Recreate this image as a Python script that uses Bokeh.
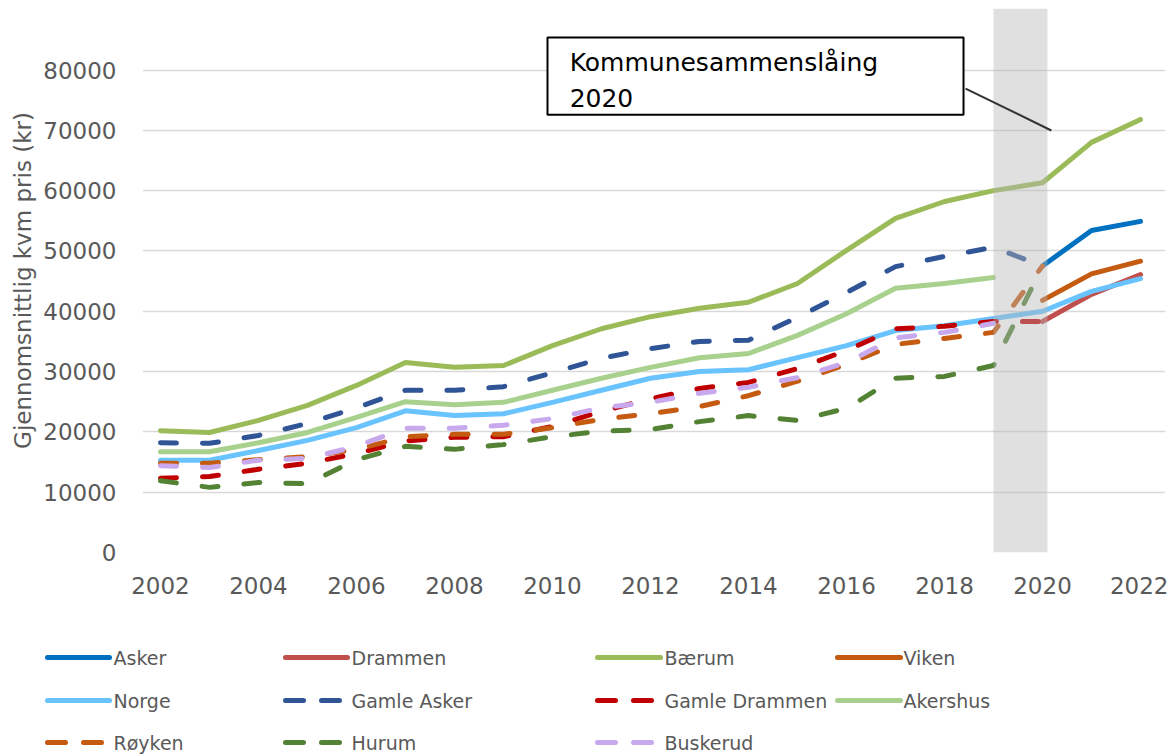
import numpy as np
from bokeh.plotting import figure
from bokeh.models import Range1d, FixedTicker, BoxAnnotation, Label, Arrow, BasicTickFormatter
from bokeh.layouts import column
from bokeh.embed import file_html
from bokeh.resources import INLINE
from bokeh.core.properties import value

nan = float("nan")
years = list(range(2002, 2023))

asker = [nan] * 18 + [47500, 53400, 54900]
drammen = [nan] * 18 + [38300, 42800, 46100]
baerum = [20200, 19900, 21900, 24400, 27700, 31500, 30700, 31000, 34300, 37100, 39100,
          40500, 41500, 44600, 50100, 55400, 58200, 60000, 61300, 68000, 71800]
viken = [nan] * 18 + [41800, 46200, 48300]
norge = [15300, 15300, 16900, 18600, 20700, 23500, 22700, 23000, 24900, 26900, 28900,
         30000, 30300, 32300, 34300, 36800, 37600, 38800, 40000, 43300, 45400]
gamle_asker = [18200, 18100, 19400, 21400, 24000, 26900, 26900, 27500, 29800, 32200, 33800,
               35000, 35200, 39000, 43100, 47400, 49100, 50600, 47500, nan, nan]
gamle_drammen = [12300, 12600, 13800, 14800, 16400, 18500, 19100, 19200, 20900, 23400, 25500,
                 27200, 28200, 30500, 33500, 37100, 37500, 38300, 38300, nan, nan]
akershus = [16700, 16700, 18200, 19900, 22400, 25000, 24500, 24900, 26900, 28900, 30700,
            32300, 33000, 36000, 39600, 43800, 44600, 45600, nan, nan, nan]
royken = [14800, 14800, 15400, 15900, 17100, 19200, 19600, 19600, 20700, 22100, 23000,
          24200, 26000, 28400, 31200, 34500, 35500, 36500, 47500, nan, nan]
hurum = [11900, 10800, 11600, 11400, 15400, 17600, 17100, 17900, 19200, 20100, 20400,
         21700, 22700, 21900, 23900, 28900, 29200, 31000, 47500, nan, nan]
buskerud = [14400, 14100, 15300, 15600, 17600, 20600, 20600, 21100, 22200, 24000, 24900,
            26400, 27400, 29000, 31500, 35600, 36500, 38000, nan, nan, nan]

names = ["Asker", "Drammen", "Bærum", "Viken", "Norge", "Gamle Asker", "Gamle Drammen",
         "Akershus", "Røyken", "Hurum", "Buskerud"]
values_list = [asker, drammen, baerum, viken, norge, gamle_asker, gamle_drammen,
               akershus, royken, hurum, buskerud]
colors = ["#0070C0", "#C0504D", "#9BBB59", "#C55A11", "#69C3FF", "#2F5597", "#C00000",
          "#A9D18E", "#C55A11", "#548235", "#C8A9EE"]
dashed = [False, False, False, False, False, True, True, False, True, True, True]

y_ticks = list(range(0, 80001, 10000))
x_ticks = list(range(2002, 2023, 2))

FONT = "DejaVu Sans"
GREY_TXT = "#595959"

p = figure(width=1168, height=628,
           x_range=Range1d(2001.633, 2022.51), y_range=Range1d(0, 90200),
           output_backend="svg", toolbar_location=None,
           min_border_left=142, min_border_right=3, min_border_top=8, min_border_bottom=76)
p.frame_align = False
p.outline_line_color = None
p.background_fill_color = "white"
p.xgrid.visible = False
p.ygrid.grid_line_color = "#D9D9D9"
p.ygrid.grid_line_width = 1.5

p.yaxis.ticker = FixedTicker(ticks=y_ticks)
p.xaxis.ticker = FixedTicker(ticks=x_ticks)
p.yaxis.formatter = BasicTickFormatter(use_scientific=False)
p.xaxis.formatter = BasicTickFormatter(use_scientific=False)
for ax in [p.xaxis, p.yaxis]:
    ax.axis_line_color = None
    ax.major_tick_line_color = None
    ax.minor_tick_line_color = None
    ax.major_label_text_font = FONT
    ax.major_label_text_font_size = "23px"
    ax.major_label_text_color = GREY_TXT
p.yaxis.major_label_standoff = 20
p.xaxis.major_label_standoff = 18
p.yaxis.axis_label = "Gjennomsnittlig kvm pris (kr)"
p.yaxis.axis_label_text_font = FONT
p.yaxis.axis_label_text_font_size = "23px"
p.yaxis.axis_label_text_font_style = "normal"
p.yaxis.axis_label_text_color = GREY_TXT
p.yaxis.axis_label_standoff = 4

for name, vals, col, dsh in zip(names, values_list, colors, dashed):
    p.line(x=years, y=vals, line_color=col, line_width=5,
           line_dash="16 26" if dsh else "solid",
           line_cap="round", line_join="round")

band = BoxAnnotation(left=2019.0, right=2020.1, fill_color="#b8b8b8", fill_alpha=0.43,
                     line_color=None)
p.add_layout(band)

callout = BoxAnnotation(left=2009.898, right=2018.388, bottom=72600, top=85400,
                        fill_color="white", fill_alpha=1.0, line_color="black",
                        line_alpha=1.0, line_width=2)
p.add_layout(callout)
p.add_layout(Label(x=2010.35, y=81240, text="Kommunesammenslåing", text_baseline="middle",
                   text_font=FONT, text_font_size="25px", text_color="black"))
p.add_layout(Label(x=2010.35, y=75440, text="2020", text_baseline="middle",
                   text_font=FONT, text_font_size="25px", text_color="black"))
p.add_layout(Arrow(end=None, x_start=2018.43, y_start=76930, x_end=2020.18, y_end=69970,
                   line_color="#333333", line_width=2))

# legend figure (pixel coordinates)
leg = figure(width=1168, height=127, x_range=Range1d(0, 1168), y_range=Range1d(127, 0),
             output_backend="svg", toolbar_location=None,
             x_axis_location=None, y_axis_location=None,
             min_border=0, min_border_left=0, min_border_right=0,
             min_border_top=0, min_border_bottom=0)
leg.frame_align = False
leg.outline_line_color = None
leg.xgrid.visible = False
leg.ygrid.visible = False

col_line_start = [47, 285, 597, 837]
col_line_end = [109, 347, 660, 900]
col_text = [113, 351, 664, 903]
row_y = [29, 72, 114]

for i, (name, col, dsh) in enumerate(zip(names, colors, dashed)):
    r, c = divmod(i, 4)
    leg.segment(x0=[col_line_start[c]], y0=[row_y[r]], x1=[col_line_end[c]], y1=[row_y[r]],
                line_color=col, line_width=5, line_cap="round",
                line_dash="18 18" if dsh else "solid")
    leg.text(x=[col_text[c]], y=[row_y[r]], text=[name], text_baseline="middle",
             text_align="left", text_font=value(FONT), text_font_size="19px",
             text_color=GREY_TXT)

layout = column(p, leg)
open("out.html", "w").write(file_html(layout, INLINE))
